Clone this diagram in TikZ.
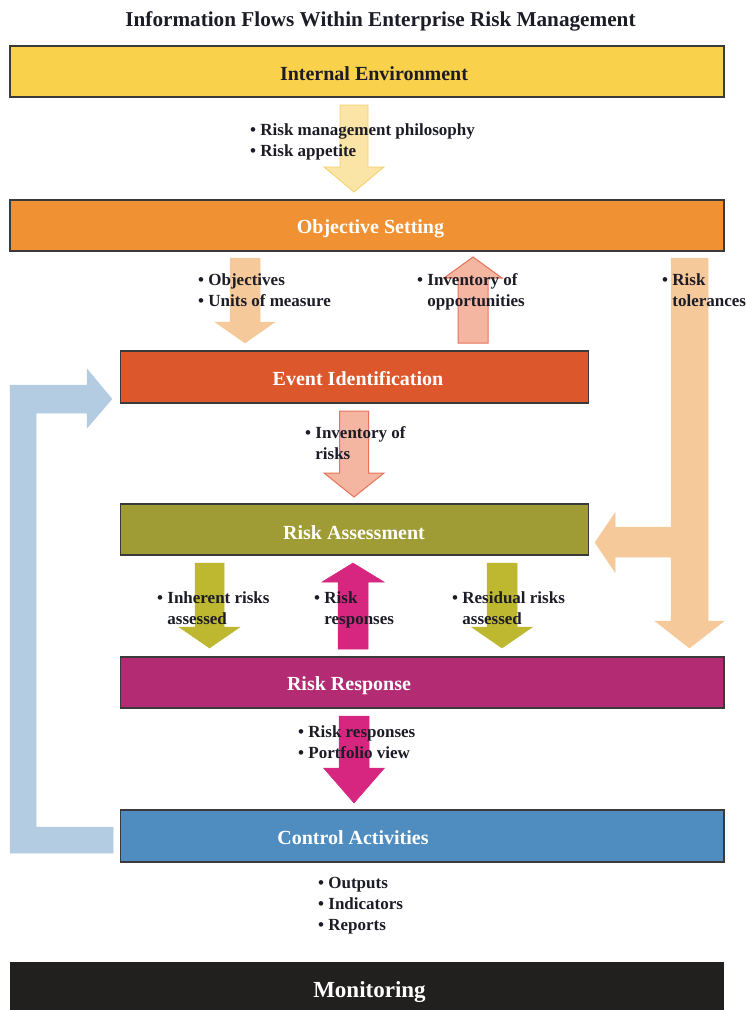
\documentclass[tikz,border=0pt]{standalone}
\usepackage{fontspec}
\setmainfont{Liberation Serif}

% palette
\definecolor{ink}{HTML}{1C1C26}
\definecolor{boxline}{HTML}{3A3A3A}
\definecolor{cIE}{HTML}{F9D14B}
\definecolor{cOS}{HTML}{F09233}
\definecolor{cEI}{HTML}{DC582C}
\definecolor{cRA}{HTML}{A09C35}
\definecolor{cRR}{HTML}{B22B73}
\definecolor{cCA}{HTML}{4F8DC0}
\definecolor{cMO}{HTML}{221F1F}
\definecolor{aYel}{HTML}{FBE5A6}
\definecolor{aYelLine}{HTML}{F5D06C}
\definecolor{aPeach}{HTML}{F6C99B}
\definecolor{aSalmon}{HTML}{F4B5A1}
\definecolor{aSalmonLine}{HTML}{E6735A}
\definecolor{aOlive}{HTML}{BDB830}
\definecolor{aMag}{HTML}{D6267F}
\definecolor{aBlue}{HTML}{B3CCE2}

% vertical block arrow: [style]{centre x}{half shaft}{half head}{tail y}{head base y}{tip y}
\newcommand\vblock[7][]{%
  \filldraw[#1] (#2-#3,#5) -- (#2+#3,#5) -- (#2+#3,#6) -- (#2+#4,#6)
    -- (#2,#7) -- (#2-#4,#6) -- (#2-#3,#6) -- cycle;}

% bullet lists
\newcommand\blist[1]{\begin{tabular}[t]{@{}l@{}}#1\end{tabular}}
\newcommand\bitem{\textbullet\ }
\newcommand\bind{\hphantom{\textbullet\ }}

\tikzset{
  stage/.style={rectangle, draw=boxline, line width=1.3pt, inner sep=0pt, outer sep=0pt},
  stagetext/.style={anchor=base, inner sep=0pt, text=white,
    font=\bfseries\fontsize{20}{24}\selectfont},
  note/.style={anchor=base west, inner sep=0pt, text=ink,
    font=\bfseries\fontsize{17}{21}\selectfont},
  yelflow/.style={fill=aYel, draw=aYelLine, line width=0.8pt},
  peachflow/.style={fill=aPeach, draw=aPeach, line width=0.5pt},
  salmonflow/.style={fill=aSalmon, draw=aSalmonLine, line width=1pt},
  oliveflow/.style={fill=aOlive, draw=aOlive, line width=0.5pt},
  magflow/.style={fill=aMag, draw=aMag, line width=0.5pt},
  blueflow/.style={fill=aBlue, draw=aBlue, line width=0.5pt},
}

\begin{document}
\begin{tikzpicture}[x=1pt, y=-1pt]
\useasboundingbox (0,0) rectangle (746,1010);

% title
\node[anchor=base, inner sep=0pt, text=ink, font=\bfseries\fontsize{21.2}{25}\selectfont]
  (title) at (380.5,26) {Information Flows Within Enterprise Risk Management};

% feedback loop from control activities back to event identification
\filldraw[blueflow] (10,385) -- (87,385) -- (87,369) -- (112,399) -- (87,428)
  -- (87,413) -- (36,413) -- (36,827) -- (113,827) -- (113,853) -- (10,853) -- cycle;

% risk tolerances: down to risk response, branching left to risk assessment
\filldraw[peachflow] (671,258) -- (708,258) -- (708,621) -- (724,621) -- (689.5,648)
  -- (655,621) -- (671,621) -- (671,557) -- (615,557) -- (615,572) -- (595,542.5)
  -- (615,513) -- (615,527) -- (671,527) -- cycle;

% stages
\node[stage, fill=cIE, minimum width=714pt, minimum height=51pt] (ie) at (367,71.5) {};
\node[stage, fill=cOS, minimum width=714pt, minimum height=51pt] (os) at (367,225.5) {};
\node[stage, fill=cEI, minimum width=468pt, minimum height=52pt] (ei) at (354.5,377) {};
\node[stage, fill=cRA, minimum width=468pt, minimum height=51pt] (ra) at (354.5,529.5) {};
\node[stage, fill=cRR, minimum width=603.5pt, minimum height=51pt] (rr) at (422.25,682.5) {};
\node[stage, fill=cCA, minimum width=603.5pt, minimum height=52pt] (ca) at (422.25,836) {};
\node[rectangle, fill=cMO, inner sep=0pt, minimum width=714pt, minimum height=50pt] (mo) at (367,987) {};

\node[stagetext, text=ink] (ie-t) at (374,80) {Internal Environment};
\node[stagetext] (os-t) at (370.5,233) {Objective Setting};
\node[stagetext] (ei-t) at (358,385) {Event Identification};
\node[stagetext] (ra-t) at (354,539) {Risk Assessment};
\node[stagetext] (rr-t) at (349,690) {Risk Response};
\node[stagetext] (ca-t) at (353,844) {Control Activities};
\node[stagetext, font=\bfseries\fontsize{23}{27}\selectfont] (mo-t) at (369.5,997) {Monitoring};

% flows between stages
\vblock[yelflow]{354}{14}{30}{105}{167}{192}
\vblock[peachflow]{245}{15}{30}{258}{322}{343}
\vblock[salmonflow]{473}{15}{29}{343}{278}{257}
\vblock[salmonflow]{354}{14.5}{30}{411}{473}{497}
\vblock[oliveflow]{209.5}{14.5}{30.5}{563}{627}{648}
\vblock[magflow]{353}{15}{31}{649}{582}{563}
\vblock[oliveflow]{502}{15}{30.5}{563}{627}{648}
\vblock[magflow]{354}{15}{30.5}{716}{768}{803}

% information carried by each flow
\node[note] (n1) at (250,135) {\blist{\bitem Risk management philosophy\\ \bitem Risk appetite}};
\node[note] (n2) at (198,285) {\blist{\bitem Objectives\\ \bitem Units of measure}};
\node[note] (n3) at (417,285) {\blist{\bitem Inventory of\\ \bind opportunities}};
\node[note] (n4) at (662,285) {\blist{\bitem Risk\\ \bind tolerances}};
\node[note] (n5) at (305,438) {\blist{\bitem Inventory of\\ \bind risks}};
\node[note] (n6) at (157,603) {\blist{\bitem Inherent risks\\ \bind assessed}};
\node[note] (n7) at (314,603) {\blist{\bitem Risk\\ \bind responses}};
\node[note] (n8) at (452,603) {\blist{\bitem Residual risks\\ \bind assessed}};
\node[note] (n9) at (298,737) {\blist{\bitem Risk responses\\ \bitem Portfolio view}};
\node[note] (n10) at (318,888) {\blist{\bitem Outputs\\ \bitem Indicators\\ \bitem Reports}};
\end{tikzpicture}
\end{document}
